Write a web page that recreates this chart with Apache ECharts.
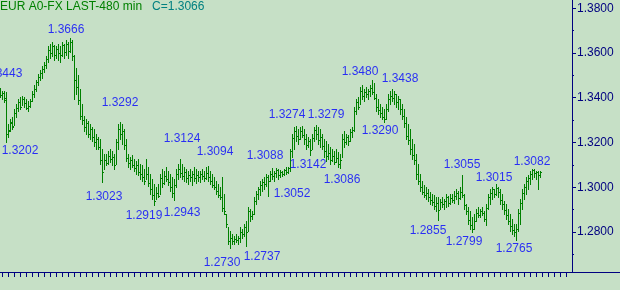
<!DOCTYPE html>
<html>
<head>
<meta charset="utf-8">
<script src="https://cdn.jsdelivr.net/npm/echarts@6/dist/echarts.min.js"></script>
<style>
html,body{margin:0;padding:0;background:#c6e0c6;}
#chart{width:620px;height:290px;}
</style>
</head>
<body>
<div id="chart"></div>
<script>
// ---- data (EUR A0-FX, 480 min bars) ----
const titleText = 'EUR A0-FX LAST-480 min';
const opens = [
1.3420,1.3412,1.3420,1.3400,1.3240,1.3255,1.3285,1.3275,1.3330,1.3355,
1.3380,1.3360,1.3395,1.3375,1.3355,1.3365,1.3385,1.3415,1.3440,1.3470,
1.3495,1.3510,1.3530,1.3548,1.3575,1.3615,1.3600,1.3630,1.3590,1.3620,
1.3600,1.3590,1.3635,1.3605,1.3640,1.3610,1.3650,1.3585,1.3480,1.3450,
1.3390,1.3320,1.3300,1.3270,1.3285,1.3240,1.3260,1.3225,1.3200,1.3215,
1.3180,1.3120,1.3070,1.3120,1.3110,1.3140,1.3125,1.3135,1.3100,1.3200,
1.3260,1.3240,1.3250,1.3190,1.3130,1.3110,1.3120,1.3100,1.3085,1.3100,
1.3070,1.3060,1.3045,1.3030,1.3060,1.3020,1.2990,1.2965,1.2940,1.2975,
1.2960,1.3040,1.3020,1.3050,1.3035,1.3025,1.3000,1.2975,1.3010,1.3060,
1.3080,1.3065,1.3050,1.3070,1.3040,1.3055,1.3045,1.3060,1.3040,1.3055,
1.3045,1.3060,1.3050,1.3040,1.3065,1.3045,1.3030,1.3010,1.3000,1.2985,
1.2965,1.2955,1.2905,1.2880,1.2835,1.2760,1.2775,1.2760,1.2770,1.2765,
1.2775,1.2800,1.2790,1.2820,1.2800,1.2895,1.2870,1.2880,1.2940,1.2970,
1.2990,1.3010,1.3025,1.3015,1.3045,1.3030,1.3060,1.3050,1.3065,1.3075,
1.3055,1.3070,1.3060,1.3075,1.3070,1.3085,1.3160,1.3220,1.3250,1.3230,
1.3215,1.3250,1.3235,1.3215,1.3190,1.3205,1.3165,1.3220,1.3255,1.3240,
1.3210,1.3225,1.3185,1.3160,1.3140,1.3155,1.3120,1.3140,1.3115,1.3130,
1.3105,1.3120,1.3215,1.3200,1.3225,1.3205,1.3245,1.3255,1.3340,1.3380,
1.3360,1.3430,1.3410,1.3425,1.3415,1.3430,1.3445,1.3425,1.3400,1.3360,
1.3345,1.3330,1.3315,1.3305,1.3350,1.3395,1.3410,1.3400,1.3415,1.3380,
1.3395,1.3350,1.3320,1.3285,1.3230,1.3210,1.3170,1.3145,1.3120,1.3060,
1.3030,1.3000,1.2980,1.2965,1.2975,1.2955,1.2945,1.2935,1.2915,1.2930,
1.2900,1.2935,1.2925,1.2940,1.2955,1.2930,1.2950,1.2945,1.2960,1.2975,
1.2950,1.2980,1.2965,1.2920,1.2895,1.2855,1.2830,1.2815,1.2850,1.2885,
1.2875,1.2895,1.2885,1.2860,1.2905,1.2955,1.2975,1.2990,1.2970,1.2995,
1.2980,1.2945,1.2925,1.2900,1.2875,1.2850,1.2825,1.2810,1.2800,1.2815,
1.2885,1.2930,1.2975,1.3000,1.3030,1.3040,1.3060,1.3075,1.3065,1.3070,
1.3055];
const highs = [
1.3443,1.3430,1.3428,1.3425,1.3283,1.3304,1.3313,1.3348,1.3370,1.3393,
1.3402,1.3410,1.3402,1.3393,1.3384,1.3393,1.3428,1.3455,1.3481,1.3508,
1.3526,1.3544,1.3561,1.3588,1.3632,1.3641,1.3650,1.3637,1.3632,1.3641,
1.3632,1.3650,1.3641,1.3659,1.3650,1.3666,1.3659,1.3592,1.3535,1.3503,
1.3437,1.3370,1.3317,1.3304,1.3295,1.3282,1.3268,1.3260,1.3237,1.3224,
1.3215,1.3171,1.3148,1.3148,1.3160,1.3171,1.3160,1.3148,1.3215,1.3282,
1.3292,1.3282,1.3260,1.3215,1.3148,1.3135,1.3144,1.3126,1.3117,1.3126,
1.3104,1.3100,1.3082,1.3126,1.3091,1.3060,1.3037,1.3015,1.3002,1.3015,
1.3060,1.3082,1.3073,1.3091,1.3073,1.3060,1.3046,1.3037,1.3082,1.3104,
1.3124,1.3104,1.3091,1.3082,1.3073,1.3082,1.3073,1.3091,1.3082,1.3073,
1.3073,1.3082,1.3073,1.3091,1.3094,1.3073,1.3060,1.3046,1.3028,1.3015,
1.3002,1.3046,1.2970,1.2882,1.2824,1.2806,1.2789,1.2780,1.2789,1.2784,
1.2824,1.2815,1.2837,1.2851,1.2913,1.2904,1.2895,1.2957,1.2984,1.3002,
1.3028,1.3037,1.3046,1.3060,1.3055,1.3073,1.3088,1.3073,1.3085,1.3082,
1.3078,1.3073,1.3082,1.3091,1.3091,1.3171,1.3237,1.3268,1.3274,1.3260,
1.3268,1.3274,1.3260,1.3237,1.3224,1.3215,1.3237,1.3268,1.3279,1.3268,
1.3260,1.3237,1.3215,1.3206,1.3193,1.3180,1.3171,1.3160,1.3171,1.3157,
1.3148,1.3237,1.3251,1.3237,1.3233,1.3260,1.3268,1.3357,1.3393,1.3402,
1.3446,1.3455,1.3437,1.3446,1.3437,1.3459,1.3480,1.3464,1.3415,1.3393,
1.3370,1.3357,1.3348,1.3370,1.3415,1.3428,1.3438,1.3428,1.3415,1.3406,
1.3393,1.3370,1.3348,1.3313,1.3282,1.3260,1.3215,1.3193,1.3148,1.3104,
1.3060,1.3028,1.3010,1.3002,1.2993,1.2979,1.2970,1.2966,1.2957,1.2957,
1.2948,1.2957,1.2948,1.2970,1.2962,1.2970,1.2970,1.2984,1.2993,1.2984,
1.3002,1.3055,1.2970,1.2926,1.2913,1.2895,1.2868,1.2882,1.2904,1.2913,
1.2904,1.2913,1.2895,1.2926,1.2970,1.2993,1.3002,1.2993,1.3015,1.3002,
1.2993,1.2970,1.2940,1.2926,1.2904,1.2882,1.2860,1.2837,1.2837,1.2904,
1.2948,1.2993,1.3015,1.3046,1.3055,1.3073,1.3082,1.3082,1.3073,1.3073,
1.3073];
const lows = [
1.3405,1.3395,1.3380,1.3202,1.3225,1.3250,1.3260,1.3280,1.3313,1.3340,
1.3348,1.3366,1.3357,1.3348,1.3340,1.3357,1.3384,1.3402,1.3428,1.3455,
1.3481,1.3490,1.3517,1.3535,1.3561,1.3579,1.3588,1.3570,1.3579,1.3570,
1.3561,1.3588,1.3579,1.3592,1.3579,1.3606,1.3570,1.3393,1.3415,1.3370,
1.3304,1.3282,1.3251,1.3237,1.3224,1.3215,1.3206,1.3184,1.3171,1.3171,
1.3104,1.3023,1.3082,1.3100,1.3104,1.3113,1.3100,1.3082,1.3104,1.3171,
1.3215,1.3193,1.3171,1.3117,1.3091,1.3082,1.3091,1.3073,1.3060,1.3055,
1.3037,1.3028,1.3015,1.3037,1.3006,1.2970,1.2948,1.2919,1.2948,1.2957,
1.2970,1.3002,1.3015,1.3028,1.3010,1.2984,1.2957,1.2943,1.3002,1.3037,
1.3046,1.3037,1.3028,1.3024,1.3015,1.3028,1.3010,1.3028,1.3020,1.3028,
1.3024,1.3037,1.3028,1.3037,1.3028,1.3015,1.3002,1.2993,1.2970,1.2957,
1.2948,1.2895,1.2882,1.2824,1.2748,1.2730,1.2748,1.2744,1.2753,1.2744,
1.2753,1.2771,1.2780,1.2737,1.2806,1.2851,1.2860,1.2882,1.2926,1.2948,
1.2966,1.2984,1.2993,1.3006,1.2962,1.3028,1.3037,1.3028,1.3046,1.3037,
1.3046,1.3052,1.3055,1.3060,1.3064,1.3073,1.3135,1.3171,1.3206,1.3193,
1.3215,1.3224,1.3193,1.3171,1.3180,1.3142,1.3171,1.3206,1.3215,1.3193,
1.3180,1.3171,1.3135,1.3117,1.3126,1.3104,1.3117,1.3104,1.3113,1.3091,
1.3086,1.3135,1.3180,1.3193,1.3189,1.3206,1.3224,1.3251,1.3326,1.3348,
1.3370,1.3393,1.3384,1.3402,1.3393,1.3410,1.3415,1.3393,1.3340,1.3326,
1.3313,1.3304,1.3290,1.3304,1.3340,1.3370,1.3384,1.3370,1.3357,1.3348,
1.3326,1.3304,1.3268,1.3215,1.3193,1.3148,1.3126,1.3104,1.3037,1.3015,
1.2984,1.2970,1.2957,1.2948,1.2940,1.2926,1.2922,1.2904,1.2895,1.2855,
1.2904,1.2913,1.2904,1.2913,1.2917,1.2926,1.2935,1.2931,1.2948,1.2926,
1.2948,1.2957,1.2904,1.2882,1.2837,1.2815,1.2799,1.2815,1.2851,1.2868,
1.2868,1.2877,1.2851,1.2833,1.2904,1.2926,1.2948,1.2957,1.2966,1.2957,
1.2926,1.2904,1.2882,1.2860,1.2837,1.2806,1.2793,1.2780,1.2765,1.2806,
1.2837,1.2904,1.2948,1.2970,1.2993,1.3015,1.3037,1.3046,1.3037,1.2993,
1.3046];
const closes = [
1.3412,1.3420,1.3390,1.3240,1.3250,1.3290,1.3270,1.3330,1.3355,1.3380,
1.3360,1.3395,1.3375,1.3355,1.3365,1.3385,1.3415,1.3440,1.3470,1.3495,
1.3510,1.3530,1.3548,1.3575,1.3615,1.3600,1.3630,1.3590,1.3620,1.3600,
1.3590,1.3635,1.3605,1.3640,1.3610,1.3650,1.3585,1.3480,1.3450,1.3390,
1.3320,1.3300,1.3270,1.3285,1.3240,1.3260,1.3225,1.3200,1.3215,1.3180,
1.3120,1.3070,1.3120,1.3110,1.3140,1.3125,1.3135,1.3100,1.3200,1.3260,
1.3240,1.3250,1.3190,1.3130,1.3110,1.3120,1.3100,1.3085,1.3100,1.3070,
1.3060,1.3045,1.3030,1.3060,1.3020,1.2990,1.2965,1.2940,1.2975,1.2960,
1.3040,1.3020,1.3050,1.3035,1.3025,1.3000,1.2975,1.3010,1.3060,1.3080,
1.3065,1.3050,1.3070,1.3040,1.3055,1.3045,1.3060,1.3040,1.3055,1.3045,
1.3060,1.3050,1.3040,1.3065,1.3045,1.3030,1.3010,1.3000,1.2985,1.2965,
1.2955,1.2905,1.2895,1.2835,1.2760,1.2775,1.2760,1.2770,1.2765,1.2775,
1.2800,1.2790,1.2820,1.2800,1.2895,1.2870,1.2880,1.2940,1.2970,1.2990,
1.3010,1.3025,1.3015,1.3045,1.3030,1.3060,1.3050,1.3065,1.3075,1.3055,
1.3070,1.3060,1.3075,1.3070,1.3085,1.3160,1.3220,1.3250,1.3230,1.3215,
1.3250,1.3235,1.3215,1.3190,1.3205,1.3165,1.3220,1.3255,1.3240,1.3210,
1.3225,1.3185,1.3160,1.3140,1.3155,1.3120,1.3140,1.3115,1.3130,1.3105,
1.3120,1.3215,1.3200,1.3225,1.3205,1.3245,1.3255,1.3340,1.3380,1.3360,
1.3430,1.3410,1.3425,1.3415,1.3430,1.3445,1.3425,1.3400,1.3360,1.3345,
1.3330,1.3315,1.3305,1.3350,1.3395,1.3410,1.3400,1.3415,1.3380,1.3395,
1.3350,1.3320,1.3285,1.3230,1.3210,1.3170,1.3145,1.3120,1.3060,1.3030,
1.3000,1.2980,1.2965,1.2975,1.2955,1.2945,1.2935,1.2915,1.2930,1.2900,
1.2935,1.2925,1.2940,1.2955,1.2930,1.2950,1.2945,1.2960,1.2975,1.2950,
1.2980,1.2965,1.2920,1.2895,1.2855,1.2830,1.2815,1.2850,1.2885,1.2875,
1.2895,1.2885,1.2860,1.2905,1.2955,1.2975,1.2990,1.2970,1.2995,1.2980,
1.2945,1.2925,1.2900,1.2875,1.2850,1.2825,1.2810,1.2800,1.2815,1.2885,
1.2930,1.2975,1.3000,1.3030,1.3040,1.3060,1.3075,1.3065,1.3070,1.3055,
1.3066];

// high / low annotations: bar index and value shown
const labelBars   = [0, 3, 35, 60, 51, 77, 90, 87, 104, 115, 123, 136, 141, 148, 155, 158, 170, 186, 192, 196, 219, 231, 236, 248, 258, 266];
const labelValues = [1.3443,1.3202,1.3666,1.3292,1.3023,1.2919,1.3124,1.2943,1.3094,1.2730,1.2737,1.3088,1.3052,1.3274,1.3142,1.3279,1.3086,1.3480,1.3290,1.3438,1.2855,1.3055,1.2799,1.3015,1.2765,1.3082];

// y axis tick labels
const yTickLabels = ['1.2800','1.3000','1.3200','1.3400','1.3600','1.3800'];
const yMinorTicks = [1.27,1.29,1.31,1.33,1.35,1.37];

// ---- layout / style (not data) ----
const labelOffsets = [
[4,-14],[14,9],[-4,-9],[0,-19],[2,15],[-10,10],[2,-21],[8,13],[7,-15],[-8,15],
[16,11],[-7,-12],[10,18],[-9,-11],[-2,9],[10,-10],[2,12],[-12,-8],[-4,8],[8,-11],
[-10,11],[0,-10],[-8,10],[-2,-6],[-2,9],[0,-7]];
const GREEN = '#008000', NAVY = '#000080', BLUE = '#0000ff';
const FONT = 'Liberation Sans, Arial, sans-serif';

const bars = opens.map((o, i) => [i, o, highs[i], lows[i], closes[i]]);
const xTicks = [];
for (let v = 1; v <= 283; v += 3) xTicks.push(v);

const chart = echarts.init(document.getElementById('chart'), null, {renderer: 'canvas'});
chart.setOption({
  animation: false,
  backgroundColor: '#c6e0c6',
  title: {
    left: 0, top: 1, padding: 0,
    text: '{a|' + titleText + '}{b|   C=' + closes[closes.length - 1].toFixed(4) + '}',
    textStyle: {
      fontSize: 12, fontWeight: 'normal', fontFamily: FONT,
      rich: {
        a: {color: GREEN, fontSize: 12, fontFamily: FONT},
        b: {color: '#008080', fontSize: 12, fontFamily: FONT}
      }
    }
  },
  grid: [
    {left: 0, right: 48, top: 0, bottom: 18},
    {left: 572, right: 0, top: 0, bottom: 18}
  ],
  xAxis: [
    {
      type: 'value', gridIndex: 0, min: 0, max: 286,
      axisLine: {show: true, onZero: false, lineStyle: {color: NAVY, width: 1}},
      axisTick: {show: true, length: 5, customValues: xTicks, lineStyle: {color: NAVY, width: 1}},
      axisLabel: {show: false},
      splitLine: {show: false}
    },
    {
      type: 'value', gridIndex: 1, min: 0, max: 1,
      axisLine: {show: true, onZero: false, lineStyle: {color: NAVY, width: 1}},
      axisTick: {show: false}, axisLabel: {show: false}, splitLine: {show: false}
    }
  ],
  yAxis: [
    {
      type: 'value', gridIndex: 0, position: 'right', min: 1.2621, max: 1.3837,
      axisLine: {show: true, onZero: false, lineStyle: {color: NAVY, width: 1}},
      axisTick: {show: true, length: 4, customValues: yTickLabels.map(Number), lineStyle: {color: NAVY}},
      axisLabel: {show: true, customValues: yTickLabels.map(Number), formatter: v => v.toFixed(4),
                  color: NAVY, fontSize: 12, fontFamily: FONT, margin: 5},
      splitLine: {show: false}
    },
    {
      type: 'value', gridIndex: 0, position: 'right', min: 1.2621, max: 1.3837,
      axisLine: {show: false, onZero: false},
      axisTick: {show: true, length: 2, customValues: yMinorTicks, lineStyle: {color: NAVY}},
      axisLabel: {show: false},
      splitLine: {show: false}
    },
    {type: 'value', gridIndex: 1, show: false, axisLine: {onZero: false}}
  ],
  series: [
    {
      type: 'custom',
      xAxisIndex: 0, yAxisIndex: 0,
      data: bars,
      encode: {x: 0, y: [1, 2, 3, 4]},
      silent: true,
      renderItem: function (params, api) {
        const i = api.value(0);
        const pO = api.coord([i, api.value(1)]);
        const pH = api.coord([i, api.value(2)]);
        const pL = api.coord([i, api.value(3)]);
        const pC = api.coord([i, api.value(4)]);
        const x = Math.round(pO[0]);
        const yH = Math.round(pH[1]), yL = Math.round(pL[1]);
        const yO = Math.round(pO[1]), yC = Math.round(pC[1]);
        const st = {fill: GREEN};
        return {
          type: 'group',
          children: [
            {type: 'rect', shape: {x: x, y: yH, width: 1, height: Math.max(1, yL - yH + 1)}, style: st},
            {type: 'rect', shape: {x: x - 1, y: yO, width: 1, height: 1}, style: st},
            {type: 'rect', shape: {x: x + 1, y: yC, width: 1, height: 1}, style: st}
          ]
        };
      }
    },
    {
      type: 'scatter',
      xAxisIndex: 0, yAxisIndex: 0,
      silent: true,
      symbolSize: 1,
      itemStyle: {color: 'rgba(0,0,0,0)'},
      data: labelBars.map((b, k) => [b, labelValues[k]]),
      label: {
        show: true, position: 'inside',
        formatter: p => p.value[1].toFixed(4),
        color: BLUE, fontSize: 12, fontFamily: FONT
      },
      labelLayout: function (params) {
        const off = labelOffsets[params.dataIndex];
        return {dx: off[0], dy: off[1], hideOverlap: false};
      }
    }
  ]
});
</script>
</body>
</html>
